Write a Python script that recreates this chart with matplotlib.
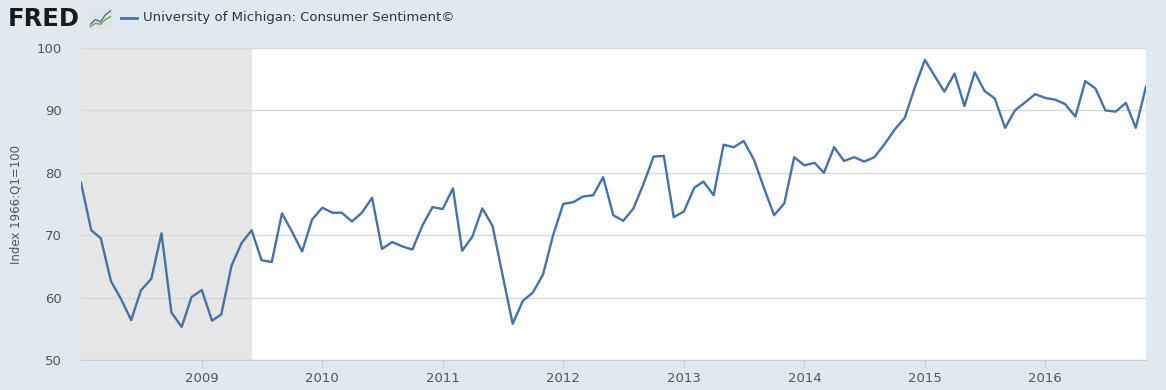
import matplotlib
matplotlib.use("Agg")
import matplotlib.pyplot as plt
import matplotlib.dates as mdates
import numpy as np
import pandas as pd

# UMCSENT monthly, Jan 2008 - Nov 2016
dates = pd.date_range("2008-01-01", "2016-11-01", freq="MS")
sentiment = [
    78.4, 70.8, 69.5, 62.6, 59.8, 56.4, 61.2, 63.0, 70.3, 57.6, 55.3, 60.1,
    61.2, 56.3, 57.3, 65.1, 68.7, 70.8, 66.0, 65.7, 73.5, 70.6, 67.4, 72.5,
    74.4, 73.6, 73.6, 72.2, 73.6, 76.0, 67.8, 68.9, 68.2, 67.7, 71.6, 74.5,
    74.2, 77.5, 67.5, 69.8, 74.3, 71.5, 63.7, 55.8, 59.5, 60.8, 63.7, 69.9,
    75.0, 75.3, 76.2, 76.4, 79.3, 73.2, 72.3, 74.3, 78.3, 82.6, 82.7, 72.9,
    73.8, 77.6, 78.6, 76.4, 84.5, 84.1, 85.1, 82.1, 77.5, 73.2, 75.1, 82.5,
    81.2, 81.6, 80.0, 84.1, 81.9, 82.5, 81.8, 82.5, 84.6, 86.9, 88.8, 93.6,
    98.1, 95.4, 93.0, 95.9, 90.7, 96.1, 93.1, 91.9, 87.2, 90.0, 91.3, 92.6,
    92.0, 91.7, 91.0, 89.0, 94.7, 93.5, 90.0, 89.8, 91.2, 87.2, 93.8,
]
recession_start = pd.Timestamp("2007-12-01")
recession_end = pd.Timestamp("2009-06-01")
x_ticks = pd.date_range("2009-01-01", "2016-01-01", freq="YS")
y_ticks = [50, 60, 70, 80, 90, 100]

bg = "#e1e9f0"
line_color = "#4572a7"
text_color = "#555555"

fig = plt.figure(figsize=(11.66, 3.9), dpi=100, facecolor=bg)
ax = fig.add_axes([81 / 1166, 1 - 360 / 390, (1146 - 81) / 1166, (360 - 48) / 390])
ax.set_facecolor("white")

ax.axvspan(recession_start, recession_end, color="#e6e6e6", zorder=0, lw=0)
ax.plot(dates, sentiment, color=line_color, lw=1.7, zorder=3)

ax.set_xlim(dates[0], dates[-1])
ax.set_ylim(50, 100)
ax.set_yticks(y_ticks)
ax.grid(axis="y", color="#d8d8d8", lw=1)
ax.set_axisbelow(True)

ax.set_xticks(x_ticks)
ax.xaxis.set_major_formatter(mdates.DateFormatter("%Y"))

for s in ["top", "right", "left"]:
    ax.spines[s].set_visible(False)
ax.spines["bottom"].set_color("#c0d0e0")
ax.tick_params(axis="y", length=0, labelsize=9.5, labelcolor=text_color, pad=14)
ax.tick_params(axis="x", length=6, color="#c0d0e0", labelsize=9.5,
               labelcolor=text_color, pad=3)

ax.set_ylabel("Index 1966:Q1=100", fontsize=8.5, color=text_color, labelpad=10)

# header: logo and legend
fig.text(8 / 1166, 1 - 19 / 390, "FRED", fontsize=17.5, fontweight="bold",
         color="#1a1a1a", va="center", ha="left")
icon = fig.add_axes([89 / 1166, 1 - 29 / 390, 23 / 1166, 20 / 390])
icon.set_facecolor("#dfe3e6")
icon.plot([0, 1, 2, 3, 4], [1, 2, 1.5, 3, 3.8], color="#4572a7", lw=1)
icon.plot([0, 1, 2, 3, 4], [0.5, 1.2, 1.0, 2.0, 2.6], color="#6aaa3a", lw=1)
icon.set_xlim(-0.3, 4.3)
icon.set_ylim(0, 4.2)
icon.set_xticks([])
icon.set_yticks([])
for s in icon.spines.values():
    s.set_visible(False)

fig.add_artist(plt.Line2D([121 / 1166, 137 / 1166], [1 - 18 / 390, 1 - 18 / 390],
                          color=line_color, lw=2))
fig.text(143 / 1166, 1 - 18 / 390, "University of Michigan: Consumer Sentiment©",
         fontsize=9.5, color="#333333", va="center", ha="left")

fig.savefig("out.png", dpi=100, facecolor=bg)
